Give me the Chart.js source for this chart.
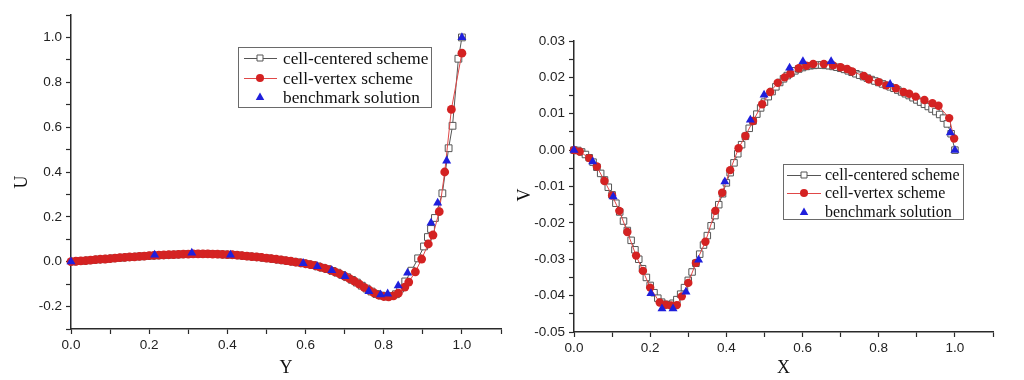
<!DOCTYPE html>
<html><head><meta charset="utf-8">
<script src="https://cdn.jsdelivr.net/npm/chart.js@4.4.0/dist/chart.umd.min.js"></script>
<style>
html,body{margin:0;padding:0;background:#fff;}
#wrap{position:relative;width:1024px;height:380px;overflow:hidden;background:#fff;}
.c{position:absolute;top:0;width:512px;height:380px;}
</style></head><body>
<div id="wrap">
<div class="c" style="left:0"><canvas id="cu" width="512" height="380"></canvas></div>
<div class="c" style="left:512px"><canvas id="cv" width="512" height="380"></canvas></div>
</div>
<script>
// ---------- labels ----------
const seriesNames = ['cell-centered scheme', 'cell-vertex scheme', 'benchmark solution'];
const leftAxisTitles = ['Y', 'U'];
const rightAxisTitles = ['X', 'V'];

// ---------- left panel: U along Y ----------
const uCenteredY = [0.00625,0.01875,0.03125,0.04375,0.05625,0.06875,0.08125,0.09375,0.10625,0.11875,
 0.13125,0.14375,0.15625,0.16875,0.18125,0.19375,0.20625,0.21875,0.23125,0.24375,
 0.25625,0.26875,0.28125,0.29375,0.30625,0.31875,0.33125,0.34375,0.35625,0.36875,
 0.38125,0.39375,0.40625,0.41875,0.43125,0.44375,0.45625,0.46875,0.48125,0.49375,
 0.50625,0.51875,0.53125,0.54375,0.55625,0.56875,0.58125,0.59375,0.60625,0.61875,
 0.63125,0.64375,0.65625,0.66875,0.68125,0.69375,0.70625,0.71875,0.73125,0.74375,
 0.75625,0.76875,0.78125,0.79375,0.80625,0.81875,0.83125,
 0.842,0.855,0.871,0.888,0.903,0.913,0.921,0.931,0.950,0.966,0.976,0.991,1.0];
const uCenteredU = [0.001,0.003,0.004,0.006,0.008,0.010,0.011,0.013,0.015,0.017,
 0.018,0.020,0.021,0.023,0.024,0.026,0.027,0.028,0.029,0.030,
 0.031,0.032,0.033,0.034,0.034,0.035,0.035,0.035,0.035,0.034,
 0.033,0.032,0.031,0.030,0.028,0.026,0.024,0.022,0.020,0.017,
 0.015,0.012,0.009,0.006,0.003,0.000,-0.003,-0.007,-0.011,-0.015,
 -0.021,-0.027,-0.033,-0.041,-0.049,-0.059,-0.069,-0.081,-0.093,-0.107,
 -0.120,-0.133,-0.144,-0.151,-0.155,-0.153,-0.145,
 -0.120,-0.088,-0.040,0.015,0.068,0.110,0.146,0.195,0.305,0.506,0.606,0.905,1.000];

const uVertexY = [0,0.0125,0.025,0.0375,0.05,0.0625,0.075,0.0875,0.1,0.1125,
 0.125,0.1375,0.15,0.1625,0.175,0.1875,0.2,0.2125,0.225,0.2375,
 0.25,0.2625,0.275,0.2875,0.3,0.3125,0.325,0.3375,0.35,0.3625,
 0.375,0.3875,0.4,0.4125,0.425,0.4375,0.45,0.4625,0.475,0.4875,
 0.5,0.5125,0.525,0.5375,0.55,0.5625,0.575,0.5875,0.6,0.6125,
 0.625,0.6375,0.65,0.6625,0.675,0.6875,0.7,0.7125,0.725,0.7375,
 0.75,0.7625,0.775,0.7875,0.8,0.8125,0.825,0.8375,
 0.854,0.864,0.881,0.897,0.914,0.926,0.942,0.956,0.973,1.0];
const uVertexU = [0.000,0.002,0.004,0.005,0.007,0.009,0.011,0.012,0.014,0.016,
 0.018,0.019,0.021,0.022,0.024,0.025,0.027,0.028,0.029,0.030,
 0.031,0.032,0.033,0.034,0.034,0.035,0.035,0.035,0.035,0.034,
 0.034,0.033,0.032,0.031,0.029,0.027,0.025,0.023,0.021,0.019,
 0.016,0.014,0.011,0.008,0.005,0.002,-0.002,-0.005,-0.009,-0.013,
 -0.018,-0.024,-0.030,-0.037,-0.045,-0.054,-0.064,-0.075,-0.087,-0.100,
 -0.114,-0.127,-0.139,-0.149,-0.155,-0.157,-0.152,-0.140,
 -0.113,-0.091,-0.045,0.012,0.079,0.119,0.223,0.400,0.679,0.930];

const uBenchY = [0,0.214,0.309,0.408,0.594,0.630,0.667,0.701,0.762,0.792,0.810,0.837,0.861,0.921,0.938,0.961,1.0];
const uBenchU = [0,0.030,0.039,0.030,-0.007,-0.021,-0.039,-0.065,-0.132,-0.147,-0.143,-0.107,-0.050,0.173,0.262,0.450,1.000];

// ---------- right panel: V along X ----------
const vCenteredX = [0,0.01,0.02,0.03,0.04,0.05,0.06,0.07,0.08,0.09,
 0.10,0.11,0.12,0.13,0.14,0.15,0.16,0.17,0.18,0.19,
 0.20,0.21,0.22,0.23,0.24,0.25,0.26,0.27,0.28,0.29,
 0.30,0.31,0.32,0.33,0.34,0.35,0.36,0.37,0.38,0.39,
 0.40,0.41,0.42,0.43,0.44,0.45,0.46,0.47,0.48,0.49,
 0.50,0.51,0.52,0.53,0.54,0.55,0.56,0.57,0.58,0.59,
 0.60,0.61,0.62,0.63,0.64,0.65,0.66,0.67,0.68,0.69,
 0.70,0.71,0.72,0.73,0.74,0.75,0.76,0.77,0.78,0.79,
 0.80,0.81,0.82,0.83,0.84,0.85,0.86,0.87,0.88,0.89,
 0.90,0.91,0.92,0.93,0.94,0.95,0.96,0.97,0.98,0.99,1.0];
const vCenteredV = [0,-0.0001,-0.0005,-0.0012,-0.0021,-0.0033,-0.0047,-0.0064,-0.0082,-0.0102,
 -0.0123,-0.0146,-0.0170,-0.0195,-0.0221,-0.0248,-0.0274,-0.0300,-0.0326,-0.0350,
 -0.0372,-0.0392,-0.0407,-0.0418,-0.0424,-0.0425,-0.0421,-0.0411,-0.0396,-0.0378,
 -0.0358,-0.0335,-0.0311,-0.0286,-0.0261,-0.0235,-0.0208,-0.0180,-0.0150,-0.0120,
 -0.0090,-0.0062,-0.0035,-0.0010,0.0015,0.0038,0.0060,0.0080,0.0099,0.0116,
 0.0132,0.0147,0.0161,0.0174,0.0186,0.0196,0.0205,0.0212,0.0218,0.0223,
 0.0227,0.0230,0.0232,0.0233,0.0234,0.0234,0.0233,0.0232,0.0230,0.0228,
 0.0225,0.0222,0.0218,0.0214,0.0210,0.0206,0.0202,0.0198,0.0194,0.0190,
 0.0186,0.0182,0.0178,0.0174,0.0170,0.0165,0.0160,0.0155,0.0150,0.0144,
 0.0138,0.0132,0.0126,0.0120,0.0113,0.0106,0.0098,0.0088,0.0072,0.0045,0];

const vVertexX = [0,0.015,0.04,0.06,0.08,0.1,0.119,0.14,0.163,0.181,
 0.2,0.225,0.241,0.255,0.27,0.283,0.3,0.32,0.345,0.371,
 0.389,0.41,0.432,0.45,0.47,0.494,0.515,0.535,0.553,0.568,
 0.59,0.61,0.628,0.656,0.68,0.7,0.717,0.73,0.761,0.774,
 0.8,0.82,0.845,0.865,0.88,0.897,0.92,0.941,0.957,0.985,0.998];
const vVertexV = [0,-0.0004,-0.0022,-0.0045,-0.0085,-0.0125,-0.0167,-0.0225,-0.029,-0.0332,
 -0.0378,-0.0419,-0.0425,-0.0427,-0.0426,-0.0402,-0.0365,-0.031,-0.0252,-0.0167,
 -0.0117,-0.0055,0.0005,0.0039,0.008,0.0126,0.016,0.0185,0.020,0.021,
 0.0225,0.0232,0.0237,0.0237,0.0233,0.0228,0.0223,0.0216,0.0204,0.0195,
 0.0187,0.0178,0.017,0.016,0.0155,0.0147,0.0138,0.0129,0.0122,0.0088,0.0032];

const vBenchX = [0,0.049,0.103,0.202,0.231,0.260,0.294,0.327,0.396,0.463,0.499,0.566,0.601,0.675,0.830,0.988,1.0];
const vBenchV = [0,-0.0032,-0.0128,-0.0394,-0.0436,-0.0436,-0.0390,-0.0302,-0.0087,0.0083,0.0152,0.0226,0.0244,0.0244,0.0181,0.0048,0];

// ---------- styling ----------
const GRAY = '#555555', RED = '#d42222', REDLINE = '#e04848', BLUE = '#1f1fdc';
const AXIS = '#2a2a2a', TICKTXT = '#222222';
const SANS = "'Liberation Sans', Arial, sans-serif";
const SERIF = "'Liberation Serif', 'Times New Roman', serif";

function pts(xs, ys) { return xs.map((x, i) => ({x: x, y: ys[i]})); }

function drawMarker(ctx, kind, x, y, r) {
  ctx.save();
  ctx.beginPath();
  if (kind === 0) {
    ctx.fillStyle = '#fff'; ctx.strokeStyle = GRAY; ctx.lineWidth = 1;
    ctx.rect(x - r, y - r, 2 * r, 2 * r); ctx.fill(); ctx.stroke();
  } else if (kind === 1) {
    ctx.fillStyle = RED; ctx.arc(x, y, r, 0, Math.PI * 2); ctx.fill();
  } else {
    ctx.fillStyle = BLUE;
    ctx.moveTo(x, y - r); ctx.lineTo(x + r * 0.95, y + r * 0.65); ctx.lineTo(x - r * 0.95, y + r * 0.65);
    ctx.closePath(); ctx.fill();
  }
  ctx.restore();
}

function overlayPlugin(L) {
  return {
    id: 'overlay',
    afterDraw(chart) {
      const ctx = chart.ctx;
      ctx.save();
      // legend box
      ctx.strokeStyle = '#6a6a6a'; ctx.lineWidth = 1;
      ctx.strokeRect(L.box[0] + 0.5, L.box[1] + 0.5, L.box[2], L.box[3]);
      ctx.font = L.font; ctx.fillStyle = '#111'; ctx.textBaseline = 'middle'; ctx.textAlign = 'left';
      for (let i = 0; i < 3; i++) {
        const y = L.rows[i];
        if (i < 2) {
          ctx.beginPath(); ctx.strokeStyle = i === 0 ? GRAY : REDLINE; ctx.lineWidth = 1;
          ctx.moveTo(L.line[0], y + 0.5); ctx.lineTo(L.line[1], y + 0.5); ctx.stroke();
        }
        drawMarker(ctx, i, L.mark, y, i === 0 ? 3 : (i === 1 ? 4 : 4.5));
        ctx.fillStyle = '#111';
        ctx.fillText(seriesNames[i], L.text, y + 1);
      }
      // vertical axis title
      ctx.save();
      ctx.translate(L.ytitle[0], L.ytitle[1]); ctx.rotate(-Math.PI / 2);
      ctx.font = '18px ' + SERIF; ctx.textAlign = 'center'; ctx.textBaseline = 'middle';
      ctx.fillStyle = '#111'; ctx.fillText(L.ytitleText, 0, 0);
      ctx.restore();
      ctx.restore();
    }
  };
}

function makeChart(id, o) {
  const tickFont = {family: SANS, size: 13.5};
  new Chart(document.getElementById(id), {
    type: 'scatter',
    data: {
      datasets: [
        {label: seriesNames[0], data: pts(o.cx, o.cy), showLine: true, order: 2,
         borderColor: GRAY, borderWidth: 1, pointStyle: 'rect', pointRadius: o.sqR,
         pointBackgroundColor: '#fff', pointBorderColor: GRAY, pointBorderWidth: 1, clip: false},
        {label: seriesNames[1], data: pts(o.vx, o.vy), showLine: true, order: 1,
         borderColor: REDLINE, borderWidth: 1, pointStyle: 'circle', pointRadius: o.ciR,
         pointBackgroundColor: RED, pointBorderColor: RED, pointBorderWidth: 0, clip: false},
        {label: seriesNames[2], data: pts(o.bx, o.by), showLine: false, order: 0,
         pointStyle: 'triangle', pointRadius: 5.2,
         pointBackgroundColor: BLUE, pointBorderColor: BLUE, pointBorderWidth: 0, clip: false}
      ]
    },
    options: {
      responsive: false, animation: false, events: [],
      layout: {padding: o.pad},
      plugins: {legend: {display: false}, tooltip: {enabled: false}},
      scales: {
        x: {
          type: 'linear', min: 0, max: 1.1,
          afterFit: s => { s.height = o.xh; },
          border: {display: true, color: AXIS, width: 1.5},
          grid: {display: true, drawOnChartArea: false, drawTicks: true, tickLength: 5, tickColor: AXIS, tickWidth: 1.2},
          ticks: {stepSize: 0.1, autoSkip: false, maxRotation: 0, color: TICKTXT, font: tickFont, padding: 3,
            callback: v => { const k = Math.round(v * 10); return (k % 2 === 0 && k <= 10) ? (k / 10).toFixed(1) : ''; }},
          title: {display: true, text: o.xTitle, color: '#111', font: {family: SERIF, size: 18}, padding: {top: 0, bottom: 1}}
        },
        y: {
          type: 'linear', min: o.ymin, max: o.ymax,
          afterFit: s => { s.width = o.yw; },
          border: {display: true, color: AXIS, width: 1.5},
          grid: {display: true, drawOnChartArea: false, drawTicks: true, tickLength: 5, tickColor: AXIS, tickWidth: 1.2},
          ticks: {stepSize: o.ystep, autoSkip: false, color: TICKTXT, font: tickFont, padding: 4, callback: o.ycb}
        }
      }
    },
    plugins: [overlayPlugin(o.legend)]
  });
}

makeChart('cu', {
  cx: uCenteredY, cy: uCenteredU, vx: uVertexY, vy: uVertexU, bx: uBenchY, by: uBenchU,
  sqR: 4.8, ciR: 4.4,
  pad: {left: 0, top: 15, right: 11, bottom: 0}, xh: 51, yw: 71,
  ymin: -0.3, ymax: 1.1, ystep: 0.1,
  ycb: v => { const k = Math.round(v * 10); return (k % 2 === 0 && k >= -2 && k <= 10) ? (k / 10).toFixed(1) : ''; },
  xTitle: leftAxisTitles[0],
  legend: {box: [238, 47, 193, 60], rows: [58, 78, 97], line: [244, 277], mark: 260, text: 283,
           font: '17.3px ' + SERIF, ytitle: [22, 182], ytitleText: leftAxisTitles[1]}
});

makeChart('cv', {
  cx: vCenteredX, cy: vCenteredV, vx: vVertexX, vy: vVertexV, bx: vBenchX, by: vBenchV,
  sqR: 4.6, ciR: 4.2,
  pad: {left: 0, top: 41, right: 31, bottom: 0}, xh: 48, yw: 62,
  ymin: -0.05, ymax: 0.03, ystep: 0.005,
  ycb: v => { const k = Math.round(v * 1000); return (k % 10 === 0) ? (k / 1000).toFixed(2) : ''; },
  xTitle: rightAxisTitles[0],
  legend: {box: [271, 164, 180, 55], rows: [175, 193, 212], line: [275, 309], mark: 292, text: 313,
           font: '16px ' + SERIF, ytitle: [13, 195], ytitleText: rightAxisTitles[1]}
});
</script>
</body></html>
